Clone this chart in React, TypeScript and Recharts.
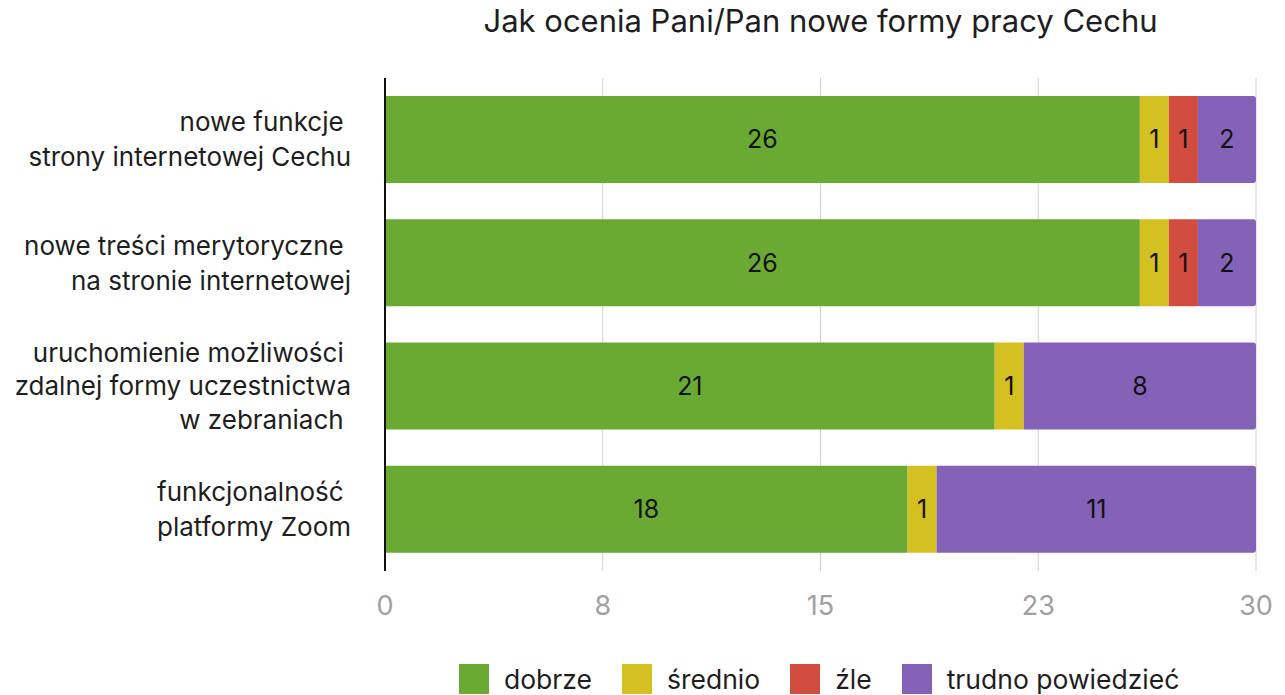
import React from 'react';
import { BarChart, Bar, XAxis, YAxis, CartesianGrid, LabelList } from 'recharts';

const categories = [
  ['nowe funkcje ', 'strony internetowej Cechu'],
  ['nowe treści merytoryczne ', 'na stronie internetowej'],
  ['uruchomienie możliwości ', 'zdalnej formy uczestnictwa', 'w zebraniach '],
  ['funkcjonalność ', 'platformy Zoom'],
];
const dobrze = [26, 26, 21, 18];
const srednio = [1, 1, 1, 1];
const zle = [1, 1, 0, 0];
const trudno = [2, 2, 8, 11];
const xTicks = [0, 7.5, 15, 22.5, 30];

const SERIES = [
  { key: 'dobrze', name: 'dobrze', color: '#6aaa32' },
  { key: 'srednio', name: 'średnio', color: '#d5c021' },
  { key: 'zle', name: 'źle', color: '#d24d3f' },
  { key: 'trudno', name: 'trudno powiedzieć', color: '#8462b8' },
];

const data = categories.map((lines, i) => ({
  name: lines.join('\n'),
  dobrze: dobrze[i],
  srednio: srednio[i],
  zle: zle[i],
  trudno: trudno[i],
}));

const FONT = 'Inter, "Noto Sans", sans-serif';

const CategoryTick = ({ x, y, payload }: any) => {
  const lines: string[] = String(payload.value).split('\n');
  const lh = lines.length > 2 ? 33.5 : 35;
  const start = y - ((lines.length - 1) * lh) / 2;
  return (
    <text x={x - 32} y={start} textAnchor="end" fill="#1e1e1e" fontSize={26} fontFamily={FONT} style={{ whiteSpace: 'pre' }}>
      {lines.map((l, i) => (
        <tspan key={i} x={x - 32} y={start + i * lh} dy="0.36em">
          {l}
        </tspan>
      ))}
    </text>
  );
};

const hideZero = (v: any) => (v ? v : '');

export default function App() {
  return (
    <div style={{ position: 'absolute', left: 0, top: 0, width: 1285, height: 695, background: '#fff', fontFamily: FONT }}>
      <div style={{ position: 'absolute', top: 2, left: 385, width: 871, textAlign: 'center', fontSize: 31, color: '#1e1e1e' }}>
        Jak ocenia Pani/Pan nowe formy pracy Cechu
      </div>
      <BarChart
        width={1285}
        height={640}
        data={data}
        layout="vertical"
        margin={{ top: 78, right: 29, left: 0, bottom: 19 }}
        barSize={87}
      >
        <CartesianGrid horizontal={false} stroke="#d0d0d0" />
        <XAxis
          type="number"
          domain={[0, 30]}
          ticks={xTicks}
          tickFormatter={(v: number) => String(Math.round(v))}
          axisLine={false}
          tickLine={false}
          tickMargin={19}
          height={50}
          tick={{ fill: '#a0a0a0', fontSize: 27, fontFamily: FONT }}
        />
        <YAxis
          type="category"
          dataKey="name"
          width={385}
          axisLine={{ stroke: '#111', strokeWidth: 2 }}
          tickLine={false}
          tickSize={0}
          tick={<CategoryTick />}
          interval={0}
        />
        {SERIES.map((s, idx) => (
          <Bar
            key={s.key}
            dataKey={s.key}
            name={s.name}
            stackId="a"
            fill={s.color}
            isAnimationActive={false}
            radius={idx === SERIES.length - 1 ? [0, 3, 3, 0] : 0}
          >
            <LabelList dataKey={s.key} position="center" fill="#111" fontSize={25} fontFamily={FONT} formatter={hideZero} />
          </Bar>
        ))}
      </BarChart>
      <div style={{ position: 'absolute', top: 663, left: 459, display: 'flex', alignItems: 'center', fontSize: 26.5, color: '#1e1e1e' }}>
        {SERIES.map((s) => (
          <div key={s.key} style={{ display: 'flex', alignItems: 'center', marginRight: 30 }}>
            <span style={{ display: 'inline-block', width: 30, height: 30, background: s.color, marginRight: 15 }} />
            <span>{s.name}</span>
          </div>
        ))}
      </div>
    </div>
  );
}
